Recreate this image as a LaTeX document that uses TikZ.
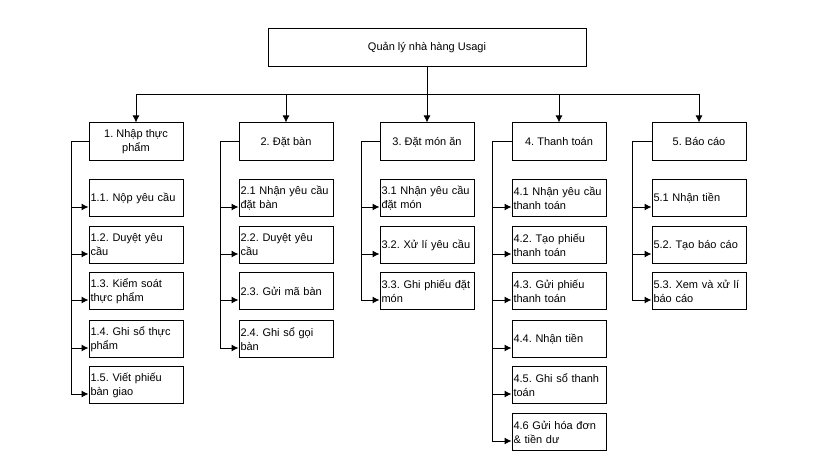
\documentclass[tikz,border=0pt]{standalone}
\usepackage{fontspec}
\setmainfont{Liberation Sans}
\frenchspacing
\usetikzlibrary{arrows.meta,calc}
\tikzset{
    block/.style = {draw, rectangle, line width=1pt,
        minimum height=38pt,
        minimum width=94pt, inner sep=0pt,
        align=center, font=\fontsize{11}{14}\selectfont},
    topblock/.style = {block, minimum width=318pt},
    subblock/.style = {draw, rectangle, line width=1pt,
        minimum height=37pt, minimum width=94pt,
        text width=91pt, inner xsep=1.5pt, inner ysep=0pt,
        align=left, font=\fontsize{11}{14}\selectfont},
    arrow/.style = {draw, line width=1pt, -{Latex[length=7pt,width=7pt]}}
}

\begin{document}
\begin{tikzpicture}[x=1pt, y=-1pt]
                \useasboundingbox (0,0) rectangle (840,473);
                \node[topblock] (root) at (427,48) {Quản lý nhà hàng Usagi};
                \coordinate (bus) at (427,95);
                % first level
                \node[block] (p1) at (136,142) {1. Nhập thực\\phẩm};
                \node[block] (p2) at (286,142) {2. Đặt bàn};
                \node[block] (p3) at (427,142) {3. Đặt món ăn};
                \node[block] (p4) at (559,142) {4. Thanh toán};
                \node[block] (p5) at (699,142) {5. Báo cáo};
                \draw [arrow] (root.south) -- (bus) -| (p1.north);
                \draw [arrow] (root.south) -- (bus) -| (p2.north);
                \draw [arrow] (root.south) -- (p3.north);
                \draw [arrow] (root.south) -- (bus) -| (p4.north);
                \draw [arrow] (root.south) -- (bus) -| (p5.north);
                % 1. Nhap thuc pham
                \node[subblock] (s11) at (136,198) {1.1. Nộp yêu cầu};
                \node[subblock] (s12) at (136,245) {1.2. Duyệt yêu\\cầu};
                \node[subblock] (s13) at (136,291) {1.3. Kiểm soát\\thực phẩm};
                \node[subblock] (s14) at (136,339) {1.4. Ghi sổ thực\\phẩm};
                \node[subblock] (s15) at (136,385) {1.5. Viết phiếu\\bàn giao};
                \draw [arrow] (p1.west) -- ++(-17,0) |- ([yshift=-9pt]s11.west);
                \draw [arrow] (p1.west) -- ++(-17,0) |- ([yshift=-9pt]s12.west);
                \draw [arrow] (p1.west) -- ++(-17,0) |- ([yshift=-9pt]s13.west);
                \draw [arrow] (p1.west) -- ++(-17,0) |- ([yshift=-9pt]s14.west);
                \draw [arrow] (p1.west) -- ++(-17,0) |- ([yshift=-9pt]s15.west);
                % 2. Dat ban
                \node[subblock] (s21) at (286,198) {2.1 Nhận yêu cầu\\đặt bàn};
                \node[subblock] (s22) at (286,245) {2.2. Duyệt yêu\\cầu};
                \node[subblock] (s23) at (286,291) {2.3. Gửi mã bàn};
                \node[subblock] (s24) at (286,339) {2.4. Ghi sổ gọi\\bàn};
                \draw [arrow] (p2.west) -- ++(-18,0) |- ([yshift=-9pt]s21.west);
                \draw [arrow] (p2.west) -- ++(-18,0) |- ([yshift=-9pt]s22.west);
                \draw [arrow] (p2.west) -- ++(-18,0) |- ([yshift=-9pt]s23.west);
                \draw [arrow] (p2.west) -- ++(-18,0) |- ([yshift=-9pt]s24.west);
                % 3. Dat mon an
                \node[subblock] (s31) at (427,198) {3.1 Nhận yêu cầu\\đặt món};
                \node[subblock] (s32) at (427,245) {3.2. Xử lí yêu cầu};
                \node[subblock] (s33) at (427,291) {3.3. Ghi phiếu đặt\\món};
                \draw [arrow] (p3.west) -- ++(-18,0) |- ([yshift=-9pt]s31.west);
                \draw [arrow] (p3.west) -- ++(-18,0) |- ([yshift=-9pt]s32.west);
                \draw [arrow] (p3.west) -- ++(-18,0) |- ([yshift=-9pt]s33.west);
                % 4. Thanh toan
                \node[subblock] (s41) at (559,198) {4.1 Nhận yêu cầu\\thanh toán};
                \node[subblock] (s42) at (559,245) {4.2. Tạo phiếu\\thanh toán};
                \node[subblock] (s43) at (559,291) {4.3. Gửi phiếu\\thanh toán};
                \node[subblock] (s44) at (559,339) {4.4. Nhận tiền};
                \node[subblock] (s45) at (559,385) {4.5. Ghi sổ thanh\\toán};
                \node[subblock] (s46) at (559,432) {4.6 Gửi hóa đơn\\\& tiền dư};
                \draw [arrow] (p4.west) -- ++(-19,0) |- ([yshift=-9pt]s41.west);
                \draw [arrow] (p4.west) -- ++(-19,0) |- ([yshift=-9pt]s42.west);
                \draw [arrow] (p4.west) -- ++(-19,0) |- ([yshift=-9pt]s43.west);
                \draw [arrow] (p4.west) -- ++(-19,0) |- ([yshift=-9pt]s44.west);
                \draw [arrow] (p4.west) -- ++(-19,0) |- ([yshift=-9pt]s45.west);
                \draw [arrow] (p4.west) -- ++(-19,0) |- ([yshift=-9pt]s46.west);
                % 5. Bao cao
                \node[subblock] (s51) at (699,198) {5.1 Nhận tiền};
                \node[subblock] (s52) at (699,245) {5.2. Tạo báo cáo};
                \node[subblock] (s53) at (699,291) {5.3. Xem và xử lí\\báo cáo};
                \draw [arrow] (p5.west) -- ++(-19,0) |- ([yshift=-9pt]s51.west);
                \draw [arrow] (p5.west) -- ++(-19,0) |- ([yshift=-9pt]s52.west);
                \draw [arrow] (p5.west) -- ++(-19,0) |- ([yshift=-9pt]s53.west);
            \end{tikzpicture}
\end{document}
